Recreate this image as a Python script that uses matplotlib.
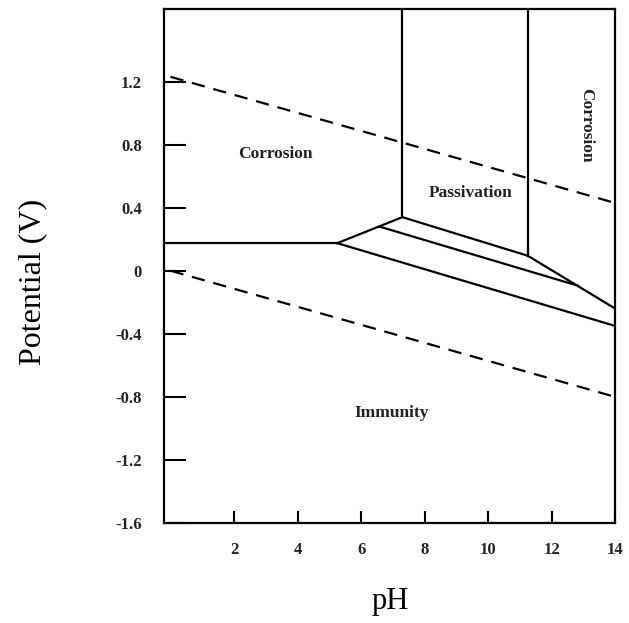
import numpy as np
import matplotlib.pyplot as plt

# water stability lines (dashed)
water_ph = [0.0, 14.0]
water_upper_e = [1.23, 0.43]
water_lower_e = [0.0, -0.80]

# solid boundaries, each a polyline of (pH, E)
horiz_ph = [-0.2, 5.25]
horiz_e = [0.175, 0.175]

left_edge_ph = [5.25, 7.3]
left_edge_e = [0.175, 0.34]

vert1_ph = [7.3, 7.3]
vert1_e = [0.34, 1.7]

vert2_ph = [11.25, 11.25]
vert2_e = [0.095, 1.7]

top_ph = [7.3, 11.25, 14.0]
top_e = [0.34, 0.095, -0.24]

mid_ph = [6.58, 12.83]
mid_e = [0.28, -0.095]

bottom_ph = [5.25, 14.0]
bottom_e = [0.175, -0.35]

# region labels
labels = ["Corrosion", "Passivation", "Corrosion", "Immunity"]
label_ph = [3.3, 9.45, 13.1, 6.95]
label_e = [0.74, 0.49, 0.92, -0.90]
label_rot = [0, 0, 270, 0]

xticks = [2, 4, 6, 8, 10, 12, 14]
yticks = [-1.6, -1.2, -0.8, -0.4, 0, 0.4, 0.8, 1.2]
ytick_labels = ["-1.6", "-1.2", "-0.8", "-0.4", "0", "0.4", "0.8", "1.2"]

plt.rcParams['font.family'] = ['Liberation Serif', 'DejaVu Serif']

fig = plt.figure(figsize=(6.29, 6.23), dpi=100)
ax = fig.add_axes([0.261, 0.1605, 0.717, 0.825])

lw = 1.6
ax.plot(water_ph, water_upper_e, color='black', lw=lw, linestyle=(0, (6, 4)))
ax.plot(water_ph, water_lower_e, color='black', lw=lw, linestyle=(0, (6, 4)))

for xs, ys in [(horiz_ph, horiz_e), (left_edge_ph, left_edge_e),
               (vert1_ph, vert1_e), (vert2_ph, vert2_e),
               (top_ph, top_e), (mid_ph, mid_e), (bottom_ph, bottom_e)]:
    ax.plot(xs, ys, color='black', lw=lw, solid_joinstyle='miter')

for t, x, y, r in zip(labels, label_ph, label_e, label_rot):
    ax.text(x, y, t, ha='center', va='center', rotation=r,
            fontsize=12.5, fontweight='bold', color='#222222')

ax.set_xlim(-0.2, 14.0)
ax.set_ylim(-1.6, 1.66)
ax.set_xticks(xticks)
ax.set_yticks(yticks)
ax.set_yticklabels(ytick_labels)

ax.tick_params(axis='x', direction='in', length=9, width=1.5, pad=14,
               labelsize=12)
ax.tick_params(axis='y', direction='in', length=16, width=1.5, pad=16,
               labelsize=12)
for lab in ax.get_xticklabels() + ax.get_yticklabels():
    lab.set_fontweight('bold')
    lab.set_color('#222222')

for sp in ax.spines.values():
    sp.set_linewidth(1.6)

ax.set_xlabel("pH", fontsize=22)
ax.set_ylabel("Potential (V)", fontsize=23)
ax.xaxis.set_label_coords(0.5, -0.125)
ax.yaxis.set_label_coords(-0.26, 0.47)

fig.savefig("out.png", dpi=100)
